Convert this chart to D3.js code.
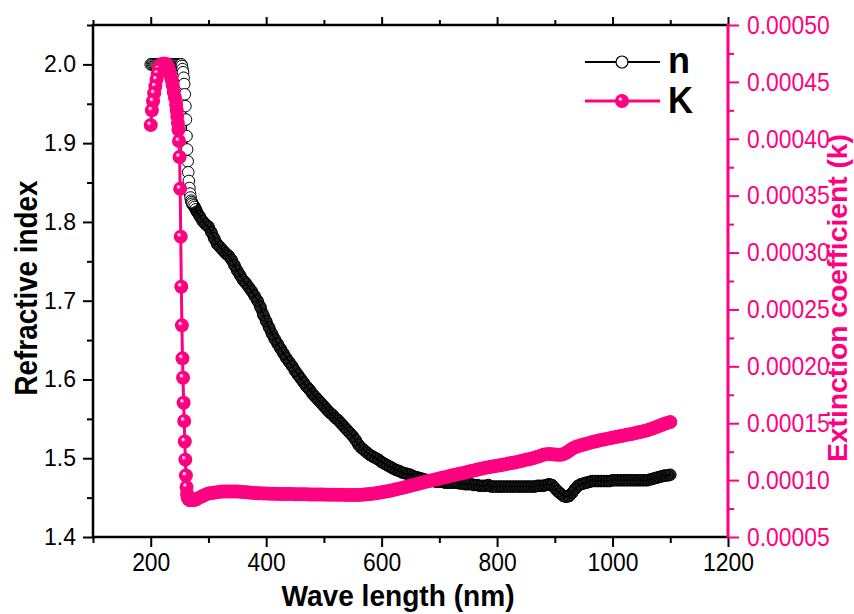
<!DOCTYPE html>
<html>
<head>
<meta charset="utf-8">
<script src="https://cdn.jsdelivr.net/npm/d3@7"></script>
<style>
  body { margin: 0; background: #fff; }
</style>
</head>
<body>
<script>
// wavelength grid (nm)
const wavelength = [
  200, 202, 204, 206, 208, 210, 212, 214, 216, 218,
  220, 222, 224, 226, 228, 230, 232, 234, 236, 238,
  240, 242, 244,
  245, 246, 247, 248, 249, 250, 251, 252, 253, 254,
  255, 256, 257, 258, 259, 260, 261, 262, 263, 264,
  265, 266, 267, 268, 269, 270, 271, 272,
  274, 276, 278, 280,
  285, 290, 295, 300, 305, 310, 315, 320, 325, 330,
  335, 340, 345, 350, 355, 360, 365, 370, 375, 380,
  385, 390, 395, 400, 405, 410, 415, 420, 425, 430,
  435, 440, 445, 450, 455, 460, 465, 470, 475, 480,
  485, 490, 495, 500, 505, 510, 515, 520, 525, 530,
  535, 540, 545, 550, 555, 560, 565, 570, 575, 580,
  585, 590, 595, 600, 605, 610, 615, 620, 625, 630,
  635, 640, 645, 650, 655, 660, 665, 670, 675, 680,
  685, 690, 695, 700, 705, 710, 715, 720, 725, 730,
  735, 740, 745, 750, 755, 760, 765, 770, 775, 780,
  785, 790, 795, 800, 805, 810, 815, 820, 825, 830,
  835, 840, 845, 850, 855, 860, 865, 870, 875, 880,
  885, 890, 895, 900, 905, 910, 915, 920, 925, 930,
  935, 940, 945, 950, 955, 960, 965, 970, 975, 980,
  985, 990, 995, 1000, 1005, 1010, 1015, 1020, 1025, 1030,
  1035, 1040, 1045, 1050, 1055, 1060, 1065, 1070, 1075, 1080,
  1085, 1090, 1095, 1100
];

// refractive index n
const nValues = [
  2.0, 2.0, 2.0, 2.0, 2.0, 2.0, 2.0, 2.0, 2.0, 2.0,
  2.0, 2.0, 2.0, 2.0, 2.0, 2.0, 2.0, 2.0, 2.0, 2.0,
  2.0, 2.0, 2.0,
  2.0, 2.0, 2.0, 2.0, 2.0, 2.0, 2.0, 2.0, 2.0, 1.998,
  1.994, 1.990, 1.983, 1.975, 1.962, 1.947, 1.930, 1.909, 1.892, 1.877,
  1.863, 1.852, 1.843, 1.836, 1.831, 1.827, 1.825, 1.823,
  1.821, 1.819, 1.816, 1.813,
  1.807, 1.801, 1.797, 1.794, 1.787, 1.779, 1.772, 1.768, 1.764, 1.760,
  1.757, 1.752, 1.745, 1.738, 1.732, 1.726, 1.722, 1.717, 1.712, 1.706,
  1.700, 1.692, 1.682, 1.674, 1.666, 1.658, 1.651, 1.645, 1.639, 1.633,
  1.627, 1.622, 1.617, 1.611, 1.606, 1.601, 1.596, 1.591, 1.587, 1.582,
  1.578, 1.574, 1.570, 1.566, 1.562, 1.558, 1.555, 1.551, 1.548, 1.544,
  1.540, 1.536, 1.532, 1.528, 1.523, 1.517, 1.513, 1.510, 1.507, 1.504,
  1.502, 1.500, 1.498, 1.495, 1.493, 1.491, 1.489, 1.487, 1.485, 1.484,
  1.482, 1.481, 1.480, 1.479, 1.477, 1.476, 1.475, 1.474, 1.473, 1.472,
  1.471, 1.471, 1.470, 1.470, 1.470, 1.469, 1.469, 1.469, 1.469, 1.469,
  1.468, 1.468, 1.467, 1.467, 1.467, 1.466, 1.466, 1.465, 1.465, 1.465,
  1.466, 1.464, 1.464, 1.464, 1.464, 1.464, 1.464, 1.464, 1.464, 1.464,
  1.464, 1.464, 1.464, 1.464, 1.464, 1.464, 1.464, 1.465, 1.465, 1.465,
  1.466, 1.467, 1.466, 1.462, 1.458, 1.455, 1.452, 1.451, 1.452, 1.456,
  1.461, 1.465, 1.467, 1.468, 1.469, 1.470, 1.471, 1.471, 1.471, 1.471,
  1.471, 1.471, 1.471, 1.472, 1.472, 1.472, 1.472, 1.472, 1.472, 1.472,
  1.472, 1.472, 1.472, 1.472, 1.472, 1.472, 1.473, 1.474, 1.475, 1.476,
  1.477, 1.478, 1.478, 1.479
];

// extinction coefficient k
const kValues = [
  41.2e-5, 42.5e-5, 43.3e-5, 44.0e-5, 44.6e-5, 45.2e-5, 45.7e-5, 46.1e-5, 46.4e-5, 46.5e-5,
  46.6e-5, 46.6e-5, 46.6e-5, 46.6e-5, 46.5e-5, 46.3e-5, 46.0e-5, 45.6e-5, 45.2e-5, 44.7e-5,
  44.1e-5, 43.6e-5, 43.0e-5,
  42.5e-5, 42.0e-5, 41.4e-5, 40.8e-5, 39.8e-5, 38.4e-5, 35.6e-5, 31.4e-5, 27.0e-5, 23.6e-5,
  20.7e-5, 19.0e-5, 16.8e-5, 15.2e-5, 13.4e-5, 11.8e-5, 10.4e-5, 9.4e-5, 8.8e-5, 8.5e-5,
  8.4e-5, 8.3e-5, 8.3e-5, 8.25e-5, 8.25e-5, 8.25e-5, 8.25e-5, 8.3e-5,
  8.26e-5, 8.28e-5, 8.30e-5, 8.35e-5,
  8.48e-5, 8.60e-5, 8.72e-5, 8.82e-5, 8.86e-5, 8.90e-5, 8.94e-5, 8.97e-5, 8.99e-5, 9.00e-5,
  9.00e-5, 9.00e-5, 9.00e-5, 8.99e-5, 8.97e-5, 8.95e-5, 8.93e-5, 8.91e-5, 8.89e-5, 8.87e-5,
  8.85e-5, 8.84e-5, 8.83e-5, 8.82e-5, 8.81e-5, 8.80e-5, 8.80e-5, 8.79e-5, 8.79e-5, 8.78e-5,
  8.78e-5, 8.77e-5, 8.77e-5, 8.76e-5, 8.76e-5, 8.75e-5, 8.75e-5, 8.75e-5, 8.74e-5, 8.74e-5,
  8.74e-5, 8.73e-5, 8.73e-5, 8.73e-5, 8.72e-5, 8.72e-5, 8.72e-5, 8.71e-5, 8.71e-5, 8.71e-5,
  8.70e-5, 8.70e-5, 8.70e-5, 8.70e-5, 8.70e-5, 8.70e-5, 8.71e-5, 8.73e-5, 8.75e-5, 8.78e-5,
  8.81e-5, 8.85e-5, 8.89e-5, 8.93e-5, 8.97e-5, 9.02e-5, 9.07e-5, 9.13e-5, 9.19e-5, 9.25e-5,
  9.31e-5, 9.37e-5, 9.43e-5, 9.50e-5, 9.56e-5, 9.63e-5, 9.70e-5, 9.77e-5, 9.84e-5, 9.90e-5,
  9.96e-5, 10.02e-5, 10.08e-5, 10.14e-5, 10.20e-5, 10.26e-5, 10.32e-5, 10.38e-5, 10.44e-5, 10.50e-5,
  10.55e-5, 10.60e-5, 10.66e-5, 10.73e-5, 10.79e-5, 10.85e-5, 10.91e-5, 10.97e-5, 11.03e-5, 11.08e-5,
  11.13e-5, 11.18e-5, 11.22e-5, 11.26e-5, 11.30e-5, 11.35e-5, 11.40e-5, 11.45e-5, 11.50e-5, 11.55e-5,
  11.60e-5, 11.66e-5, 11.72e-5, 11.78e-5, 11.84e-5, 11.90e-5, 11.97e-5, 12.05e-5, 12.13e-5, 12.22e-5,
  12.28e-5, 12.30e-5, 12.28e-5, 12.25e-5, 12.22e-5, 12.22e-5, 12.28e-5, 12.40e-5, 12.58e-5, 12.75e-5,
  12.88e-5, 12.98e-5, 13.06e-5, 13.13e-5, 13.20e-5, 13.27e-5, 13.34e-5, 13.40e-5, 13.46e-5, 13.52e-5,
  13.56e-5, 13.62e-5, 13.67e-5, 13.73e-5, 13.78e-5, 13.83e-5, 13.88e-5, 13.93e-5, 13.98e-5, 14.03e-5,
  14.08e-5, 14.14e-5, 14.20e-5, 14.25e-5, 14.31e-5, 14.38e-5, 14.46e-5, 14.55e-5, 14.65e-5, 14.75e-5,
  14.85e-5, 14.95e-5, 15.03e-5, 15.10e-5
];

// tick values
const xTicks = [200, 400, 600, 800, 1000, 1200];
const xMinor = [100, 300, 500, 700, 900, 1100];
const nTicks = [1.4, 1.5, 1.6, 1.7, 1.8, 1.9, 2.0];
const nMinor = [1.45, 1.55, 1.65, 1.75, 1.85, 1.95, 2.05];
const kTicks = [0.00005, 0.0001, 0.00015, 0.0002, 0.00025, 0.0003, 0.00035, 0.0004, 0.00045, 0.0005];
const kMinor = [0.000075, 0.000125, 0.000175, 0.000225, 0.000275, 0.000325, 0.000375, 0.000425, 0.000475];

const width = 854, height = 614;
const box = { left: 93, right: 728, top: 25, bottom: 537 };
const pink = "#ff0080";
const font = "'Liberation Sans', Arial, sans-serif";

const points = wavelength.map((w, i) => ({ w: w, n: nValues[i], k: kValues[i] }));

const svg = d3.select("body").append("svg")
  .attr("width", width)
  .attr("height", height)
  .style("font-family", font);

const x = d3.scaleLinear().domain([100, 1200]).range([box.left, box.right]);
const yN = d3.scaleLinear().domain([1.4, 2.05]).range([box.bottom, box.top]);
const yK = d3.scaleLinear().domain([0.00005, 0.0005]).range([box.bottom, box.top]);

// sphere look for the k symbols
const grad = svg.append("defs").append("radialGradient")
  .attr("id", "sphere")
  .attr("cx", "50%").attr("cy", "50%").attr("r", "50%")
  .attr("fx", "34%").attr("fy", "32%");
grad.append("stop").attr("offset", "0%").attr("stop-color", "#ffffff");
grad.append("stop").attr("offset", "14%").attr("stop-color", "#ffc6e3");
grad.append("stop").attr("offset", "34%").attr("stop-color", pink);
grad.append("stop").attr("offset", "100%").attr("stop-color", pink);

const tidy = (g, color, size, squeeze) => {
  g.select(".domain").remove();
  g.selectAll("line").attr("stroke", color).attr("stroke-width", 2);
  g.selectAll("text")
    .attr("fill", color)
    .style("font-size", size + "px")
    .style("font-family", font)
    .each(function () {
      if (squeeze && this.textContent) {
        d3.select(this)
          .attr("textLength", this.getComputedTextLength() * squeeze)
          .attr("lengthAdjust", "spacingAndGlyphs");
      }
    });
};

// bottom axis
svg.append("g").attr("transform", `translate(0,${box.bottom})`)
  .call(d3.axisBottom(x).tickValues(xMinor).tickSize(6).tickFormat(""))
  .call(g => tidy(g, "#000", 26, 0));
svg.append("g").attr("transform", `translate(0,${box.bottom})`)
  .call(d3.axisBottom(x).tickValues(xTicks).tickSize(10).tickPadding(6).tickFormat(d3.format("d")))
  .call(g => tidy(g, "#000", 26, 0.88));

// top axis, ticks only
svg.append("g").attr("transform", `translate(0,${box.top})`)
  .call(d3.axisTop(x).tickValues(xMinor).tickSize(5).tickFormat(""))
  .call(g => tidy(g, "#000", 26, 0));
svg.append("g").attr("transform", `translate(0,${box.top})`)
  .call(d3.axisTop(x).tickValues(xTicks).tickSize(8).tickFormat(""))
  .call(g => tidy(g, "#000", 26, 0));

// left axis
svg.append("g").attr("transform", `translate(${box.left},0)`)
  .call(d3.axisLeft(yN).tickValues(nMinor).tickSize(6).tickFormat(""))
  .call(g => tidy(g, "#000", 23, 0));
svg.append("g").attr("transform", `translate(${box.left},0)`)
  .call(d3.axisLeft(yN).tickValues(nTicks).tickSize(10).tickPadding(7).tickFormat(d3.format(".1f")))
  .call(g => tidy(g, "#000", 23, 0));

// right axis (k)
svg.append("g").attr("transform", `translate(${box.right},0)`)
  .call(d3.axisRight(yK).tickValues(kMinor).tickSize(6).tickFormat(""))
  .call(g => tidy(g, pink, 26, 0));
svg.append("g").attr("transform", `translate(${box.right},0)`)
  .call(d3.axisRight(yK).tickValues(kTicks).tickSize(11).tickPadding(8).tickFormat(d3.format(".5f")))
  .call(g => tidy(g, pink, 26, 0.88));

// frame
svg.append("path")
  .attr("d", `M${box.right},${box.top}H${box.left}V${box.bottom}H${box.right}`)
  .attr("fill", "none").attr("stroke", "#000").attr("stroke-width", 2.5);
svg.append("line")
  .attr("x1", box.right).attr("x2", box.right)
  .attr("y1", box.top - 1).attr("y2", box.bottom + 1)
  .attr("stroke", pink).attr("stroke-width", 3);

// n series: dense part drawn as a dark band under the open circles
const nLine = d3.line().x(d => x(d.w)).y(d => yN(d.n));
svg.append("path")
  .datum(points.filter(d => d.w >= 272))
  .attr("d", nLine)
  .attr("fill", "none").attr("stroke", "#222").attr("stroke-width", 11.5)
  .attr("stroke-linecap", "round").attr("stroke-linejoin", "round");
svg.append("path")
  .datum(points)
  .attr("d", nLine)
  .attr("fill", "none").attr("stroke", "#000").attr("stroke-width", 1.5);
svg.append("g").selectAll("circle")
  .data(points)
  .join("circle")
  .attr("cx", d => x(d.w))
  .attr("cy", d => yN(d.n))
  .attr("r", 5.8)
  .attr("fill", d => d.w < 272 ? "#fff" : "none")
  .attr("stroke", "#000")
  .attr("stroke-width", 1);

// k series (spheres stacked so that dense runs read as a solid band)
const kLine = d3.line().x(d => x(d.w)).y(d => yK(d.k));
svg.append("path")
  .datum(points)
  .attr("d", kLine)
  .attr("fill", "none").attr("stroke", pink).attr("stroke-width", 3);
svg.append("g").selectAll("circle")
  .data(points.slice().reverse())
  .join("circle")
  .attr("cx", d => x(d.w))
  .attr("cy", d => yK(d.k))
  .attr("r", 7)
  .attr("fill", "url(#sphere)");

// legend
const legend = svg.append("g");
legend.append("line").attr("x1", 585).attr("x2", 660).attr("y1", 62).attr("y2", 62)
  .attr("stroke", "#000").attr("stroke-width", 2);
legend.append("circle").attr("cx", 622).attr("cy", 62).attr("r", 6)
  .attr("fill", "#fff").attr("stroke", "#000").attr("stroke-width", 1.2);
legend.append("text").attr("x", 668).attr("y", 73).text("n")
  .style("font-size", "36px").style("font-weight", "bold")
  .attr("textLength", 22).attr("lengthAdjust", "spacingAndGlyphs");
legend.append("line").attr("x1", 585).attr("x2", 660).attr("y1", 101).attr("y2", 101)
  .attr("stroke", pink).attr("stroke-width", 3);
legend.append("circle").attr("cx", 622).attr("cy", 101).attr("r", 7)
  .attr("fill", "url(#sphere)");
legend.append("text").attr("x", 668).attr("y", 113).text("K")
  .style("font-size", "36px").style("font-weight", "bold")
  .attr("textLength", 25).attr("lengthAdjust", "spacingAndGlyphs");

// axis titles
svg.append("text")
  .attr("x", 398).attr("y", 606)
  .attr("text-anchor", "middle")
  .style("font-size", "30px").style("font-weight", "bold")
  .attr("textLength", 233).attr("lengthAdjust", "spacingAndGlyphs")
  .text("Wave length (nm)");

svg.append("text")
  .attr("transform", "translate(37,288) rotate(-90)")
  .attr("text-anchor", "middle")
  .style("font-size", "32px").style("font-weight", "bold")
  .attr("textLength", 215).attr("lengthAdjust", "spacingAndGlyphs")
  .text("Refractive index");

svg.append("text")
  .attr("transform", "translate(847,298) rotate(-90)")
  .attr("text-anchor", "middle")
  .attr("fill", pink)
  .style("font-size", "28px").style("font-weight", "bold")
  .attr("textLength", 328).attr("lengthAdjust", "spacingAndGlyphs")
  .text("Extinction coefficient (k)");
</script>
</body>
</html>
